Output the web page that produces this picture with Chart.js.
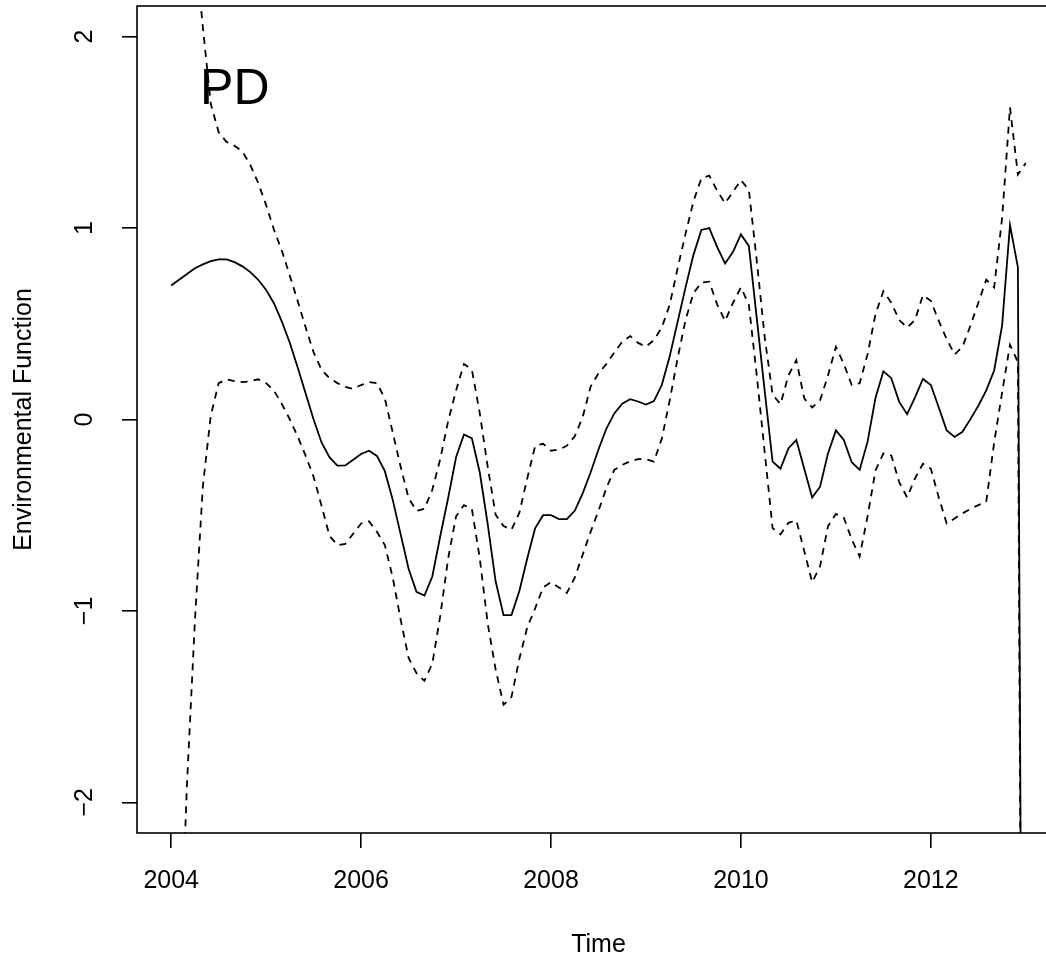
<!DOCTYPE html>
<html>
<head>
<meta charset="utf-8">
<script src="https://cdn.jsdelivr.net/npm/chart.js@4/dist/chart.umd.min.js"></script>
<style>
html, body { margin:0; padding:0; background:#fff; overflow:hidden; }
#wrap { width:1070px; height:960px; }
</style>
</head>
<body>
<div id="wrap"><canvas id="chart"></canvas></div>
<script>

// ------------------------------
// DATA (monthly, Jan 2004 .. Jan 2013)
// ------------------------------

const startYear = 2004
const perYear = 12

const fit = [
    0.70, 0.73, 0.76, 0.79, 0.81, 0.827, 0.836, 0.836, 0.822, 0.80, 0.77, 0.73,
    0.677, 0.606, 0.51, 0.40, 0.27, 0.135, 0.0, -0.12, -0.197, -0.241, -0.24, -0.21,
    -0.18, -0.163, -0.19, -0.27, -0.42, -0.60, -0.78, -0.90, -0.92, -0.82, -0.61, -0.41,
    -0.197, -0.078, -0.098, -0.277, -0.547, -0.845, -1.022, -1.022, -0.896, -0.725, -0.567, -0.50,
    -0.50, -0.52, -0.52, -0.477, -0.386, -0.277, -0.157, -0.047, 0.032, 0.083, 0.106, 0.094,
    0.078, 0.096, 0.18, 0.33, 0.51, 0.69, 0.86, 0.99, 1.00, 0.90, 0.815, 0.876,
    0.967, 0.907, 0.53, 0.15, -0.22, -0.257, -0.151, -0.107, -0.257, -0.407, -0.351, -0.177,
    -0.057, -0.107, -0.223, -0.263, -0.117, 0.112, 0.252, 0.216, 0.092, 0.028, 0.116, 0.212,
    0.18, 0.063, -0.057, -0.091, -0.064, 0.002, 0.072, 0.152, 0.256, 0.49, 1.015, 0.795,
    -8
]

const upper = [
    6.0, 4.5, 3.3, 2.49, 2.05, 1.65, 1.50, 1.45, 1.43, 1.40, 1.33, 1.235,
    1.12, 0.99, 0.88, 0.75, 0.617, 0.48, 0.35, 0.26, 0.216, 0.19, 0.17, 0.16,
    0.18, 0.196, 0.19, 0.11, -0.068, -0.247, -0.41, -0.477, -0.467, -0.367, -0.207, -0.008,
    0.152, 0.29, 0.26, 0.032, -0.247, -0.497, -0.557, -0.576, -0.487, -0.307, -0.137, -0.127,
    -0.163, -0.157, -0.137, -0.088, 0.012, 0.172, 0.242, 0.29, 0.35, 0.406, 0.436, 0.40,
    0.38, 0.415, 0.48, 0.60, 0.79, 0.97, 1.14, 1.26, 1.274, 1.195, 1.13, 1.19,
    1.25, 1.20, 0.83, 0.43, 0.13, 0.08, 0.23, 0.31, 0.11, 0.063, 0.10, 0.23,
    0.38, 0.29, 0.18, 0.19, 0.34, 0.55, 0.67, 0.61, 0.52, 0.48, 0.52, 0.65,
    0.62, 0.515, 0.42, 0.34, 0.38, 0.49, 0.61, 0.73, 0.69, 1.05, 1.63, 1.28,
    1.34
]

const lower = [
    -4.5, -3.0, -1.9, -1.05, -0.35, 0.02, 0.19, 0.21, 0.20, 0.195, 0.20, 0.21,
    0.19, 0.15, 0.08, 0.0, -0.09, -0.19, -0.30, -0.45, -0.607, -0.656, -0.65, -0.597,
    -0.543, -0.532, -0.587, -0.656, -0.826, -1.046, -1.245, -1.325, -1.365, -1.275, -1.026, -0.726,
    -0.506, -0.447, -0.467, -0.726, -1.066, -1.305, -1.49, -1.45, -1.25, -1.085, -0.986, -0.877,
    -0.85, -0.877, -0.906, -0.826, -0.706, -0.587, -0.477, -0.357, -0.263, -0.237, -0.218, -0.207,
    -0.207, -0.22, -0.10, 0.10, 0.32, 0.52, 0.66, 0.715, 0.72, 0.60, 0.515, 0.61,
    0.69, 0.60, 0.23, -0.17, -0.567, -0.60, -0.54, -0.527, -0.687, -0.85, -0.767, -0.557,
    -0.493, -0.513, -0.626, -0.716, -0.506, -0.267, -0.177, -0.188, -0.327, -0.407, -0.307, -0.231,
    -0.257, -0.407, -0.543, -0.517, -0.49, -0.467, -0.447, -0.43, -0.12, 0.14, 0.39, 0.30,
    -8
]

const xTicks = [2004, 2006, 2008, 2010, 2012]
const yTicks = [-2, -1, 0, 1, 2]
const yTickLabels = ["\u22122", "\u22121", "0", "1", "2"]

const panelLabel = "PD"

// ------------------------------
// HELPERS
// ------------------------------

const FONT = "'Liberation Sans', Arial, sans-serif"

function toPoints(arr){
    return arr.map((v,i) => ({ x: startYear + i/perYear, y: v }))
}

// R style: pad data range by 4% on each side
const xFirst = startYear
const xLast = startYear + (fit.length-1)/perYear
const xPad = (xLast - xFirst) * 0.04
const yPad = (2 - (-2)) * 0.04

// ------------------------------
// PLUGIN: box, rotated y labels, panel text
// ------------------------------

const rDecor = {
    id: "rDecor",
    afterDraw(chart){
        const ctx = chart.ctx
        const a = chart.chartArea
        const ys = chart.scales.y
        const xs = chart.scales.x

        ctx.save()
        ctx.strokeStyle = "#000"
        ctx.lineWidth = 1.6
        ctx.strokeRect(a.left, a.top, a.right - a.left, a.bottom - a.top)

        ctx.fillStyle = "#000"
        ctx.font = "25px " + FONT
        ctx.textAlign = "center"
        ctx.textBaseline = "alphabetic"
        yTicks.forEach((v,i) => {
            const py = ys.getPixelForValue(v)
            ctx.save()
            ctx.translate(92, py)
            ctx.rotate(-Math.PI/2)
            ctx.fillText(yTickLabels[i], 0, 0)
            ctx.restore()
        })

        ctx.font = "50px " + FONT
        ctx.textBaseline = "middle"
        ctx.fillText(panelLabel, xs.getPixelForValue(2004.67), ys.getPixelForValue(1.72))
        ctx.restore()
    }
}

// ------------------------------
// CHART
// ------------------------------

const solid = { borderColor:"#000", borderWidth:1.8, pointRadius:0, tension:0, fill:false }
const dashed = { ...solid, borderDash:[7,6] }

const ctx = document.getElementById("chart").getContext("2d")

const chart = new Chart(ctx,{
    type:"line",
    data:{
        datasets:[
            { label:"fit", data:toPoints(fit), ...solid },
            { label:"upper", data:toPoints(upper), ...dashed },
            { label:"lower", data:toPoints(lower), ...dashed }
        ]
    },
    options:{
        responsive:true,
        maintainAspectRatio:false,
        animation:false,
        devicePixelRatio:1,
        layout:{ padding:{ left:0, top:6, right:10, bottom:0 } },
        plugins:{ legend:{ display:false }, tooltip:{ enabled:false } },
        scales:{
            x:{
                type:"linear",
                min: xFirst - xPad,
                max: xLast + xPad,
                afterBuildTicks: s => { s.ticks = xTicks.map(v => ({ value:v })) },
                afterFit: s => { s.height = 127 },
                border:{ display:false },
                grid:{ drawOnChartArea:false, drawTicks:true, tickLength:15, color:"#000", lineWidth:1.6 },
                ticks:{
                    color:"#000",
                    font:{ family:FONT, size:25 },
                    padding:18,
                    maxRotation:0,
                    autoSkip:false,
                    callback: v => String(v)
                },
                title:{ display:true, text:"Time", color:"#000", font:{ family:FONT, size:25 }, padding:{ top:0, bottom:0 } }
            },
            y:{
                type:"linear",
                min: -2 - yPad,
                max: 2 + yPad,
                afterBuildTicks: s => { s.ticks = yTicks.map(v => ({ value:v })) },
                afterFit: s => { s.width = 137 },
                border:{ display:false },
                grid:{ drawOnChartArea:false, drawTicks:true, tickLength:15, color:"#000", lineWidth:1.6 },
                ticks:{ display:false },
                title:{ display:true, text:"Environmental Function", color:"#000", font:{ family:FONT, size:25 }, padding:{ top:9, bottom:0 } }
            }
        }
    },
    plugins:[rDecor]
})

</script>
</body>
</html>
